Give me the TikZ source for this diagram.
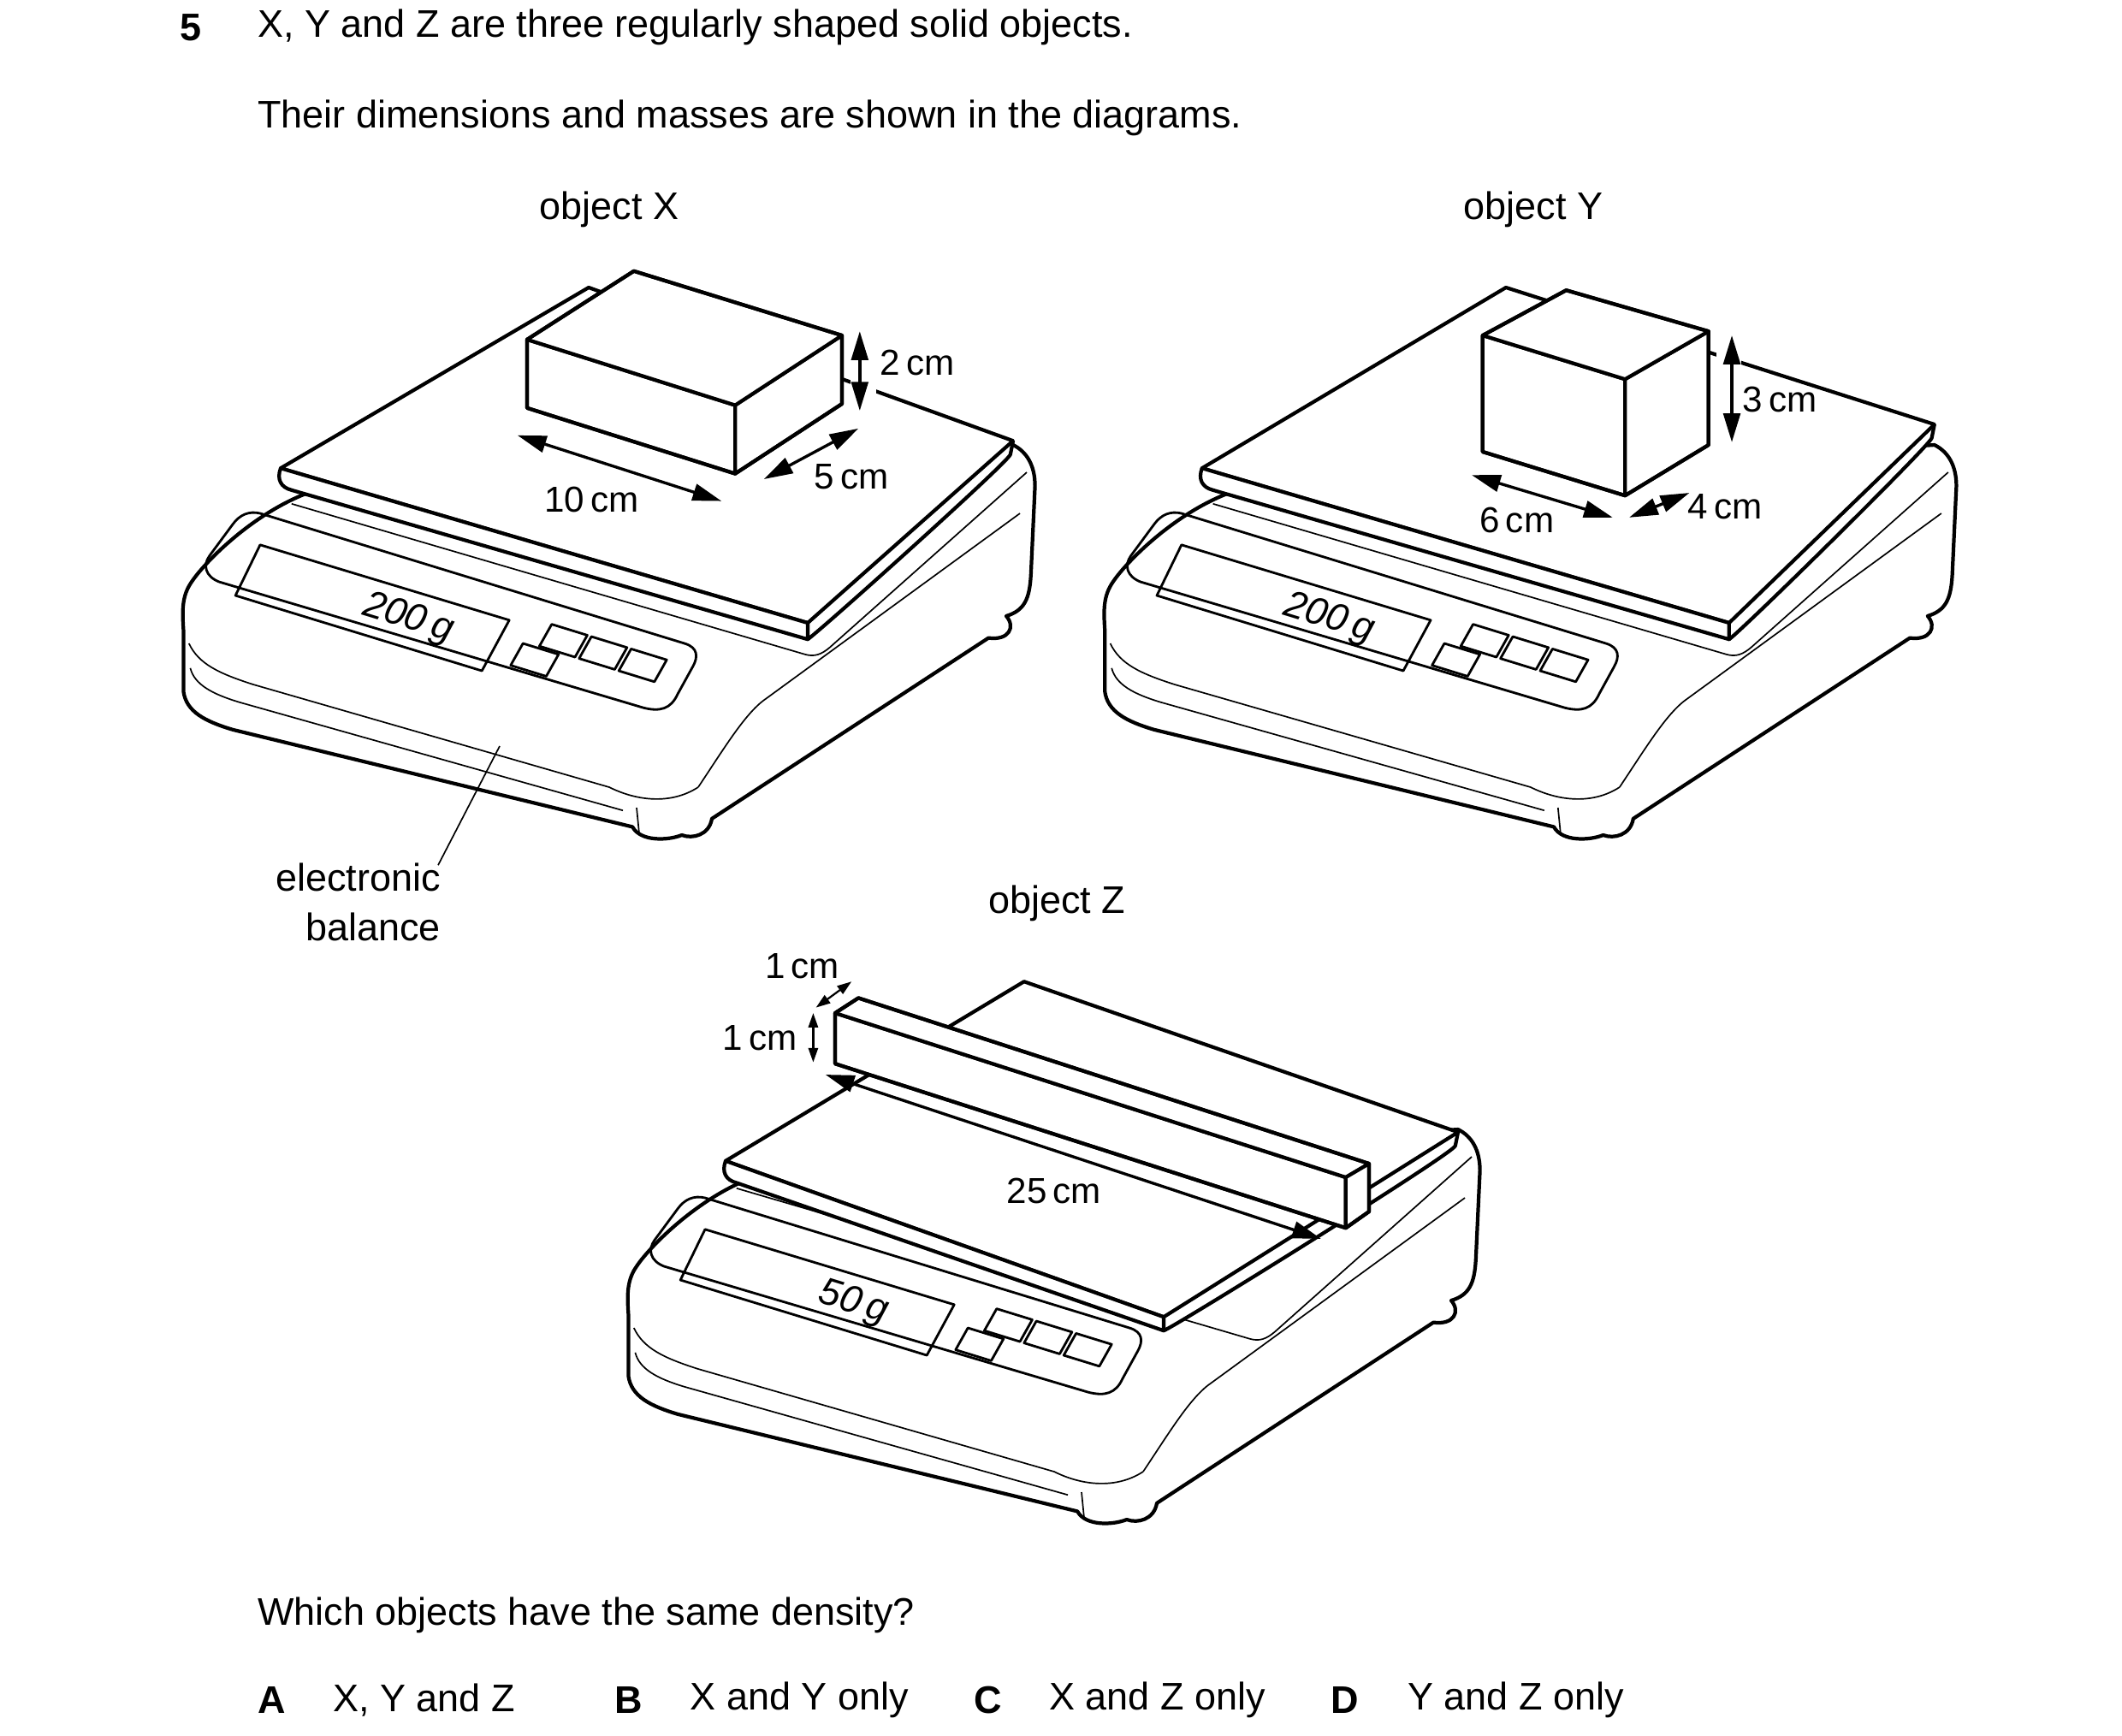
\documentclass[tikz,border=0pt]{standalone}
\usepackage{fontspec}
\setmainfont{Liberation Sans}
\usetikzlibrary{arrows.meta}
\tikzset{
 thk/.style={line width=1.5pt, line join=round},
 thn/.style={line width=0.6pt},
 dim/.style={line width=1.2pt, {Triangle[length=12pt,width=7pt]}-{Triangle[length=12pt,width=7pt]}},
 lbl/.style={font=\fontsize{15}{16}\selectfont, inner sep=0pt},
 txt/.style={font=\fontsize{16}{18}\selectfont, inner sep=0pt, anchor=west},
 disp/.style={font=\fontsize{16}{16}\selectfont\itshape, inner sep=0pt, rotate=-17},
}
\newcommand\mybody[2]{%
\begin{scope}[shift={#1}]
 \draw[thk, fill=white] (225,360) .. controls (185,375) and (150,410) .. (140,425) .. controls (133,435) and (133,445) .. (134,460) -- (134,505) .. controls (136,520) and (150,527) .. (170,533) -- (462,604) .. controls (468,615) and (488,614) .. (498,610) .. controls (506,613) and (518,610) .. (520,598) -- (722,466) .. controls (737,468) and (742,458) .. (735,450) .. controls (748,446) and (752,438) .. (753,420) -- (756,355) .. controls (756,340) and (750,330) .. (740,325) -- cycle;
 \draw[thn] (213,368) -- (588,478) .. controls (595,480) and (600,478) .. (606,473) -- (750,345);
 \draw[thn] (138,470) .. controls (145,485) and (160,492) .. (185,500) -- (445,575) .. controls (465,585) and (490,588) .. (510,575);
 \draw[thn] (510,575) .. controls (530,545) and (545,520) .. (560,510) -- (745,375);
 \draw[thn] (139,488) .. controls (142,500) and (155,507) .. (175,513) -- (455,592);
 \draw[thk,line width=1pt] (190,375) -- (500,470) .. controls (510,473) and (510,480) .. (506,487) -- (495,507) .. controls (490,518) and (482,520) .. (470,517) -- (160,425) .. controls (150,421) and (148,413) .. (153,406) -- (170,383) .. controls (175,376) and (182,373) .. (190,375) -- cycle;
 \draw[thk,line width=1pt] (190,398) -- (372,453) -- (352,490) -- (172,435) -- cycle;
 \foreach \o in {(403,456),(432,465),(461,474),(382,470)}
   \draw[thk,line width=1pt] \o -- ++(26,8) -- ++(-9,16) -- ++(-26,-8) -- cycle;
 \draw[thn] (465,590) -- (467,610);
 \node[disp] at (298,452) {#2};
\end{scope}}
\begin{document}
\begin{tikzpicture}[x=0.02cm,y=-0.02cm]
\useasboundingbox (0,0) rectangle (1550,1267.5);
% texts
\node[txt,font=\fontsize{16}{18}\selectfont\bfseries] (q) at (131,20) {5};
\node[txt] (t1) at (188,20) {X, Y and Z are three regularly shaped solid objects.};
\node[txt] (t2) at (188,86) {Their dimensions and masses are shown in the diagrams.};
\node[txt,anchor=center] (ox) at (445,153) {object X};
\node[txt,anchor=center] (oy) at (1120,153) {object Y};
\node[txt,anchor=center] (oz) at (772,660) {object Z};
\node[txt,anchor=east] (e1) at (322,641) {electronic};
\node[txt,anchor=east] (e2) at (322,677) {balance};
\node[txt] (w) at (188,1180) {Which objects have the same density?};
\node[txt,font=\fontsize{16}{18}\selectfont\bfseries] (A) at (188,1242) {A};
\node[txt] (Aa) at (243,1242) {X, Y and Z};
\node[txt,font=\fontsize{16}{18}\selectfont\bfseries] (B) at (449,1242) {B};
\node[txt] (Ba) at (504,1242) {X and Y only};
\node[txt,font=\fontsize{16}{18}\selectfont\bfseries] (C) at (711,1242) {C};
\node[txt] (Ca) at (766,1242) {X and Z only};
\node[txt,font=\fontsize{16}{18}\selectfont\bfseries] (D) at (972,1242) {D};
\node[txt] (Da) at (1028,1242) {Y and Z only};

% ===== balance X
\mybody{(0,0)}{200\,g}
\draw[thk,fill=white] (205,342) -- (430,210) -- (740,322) -- (738,332) .. controls (736,338) and (600,460) .. (590,467) -- (590,455) -- cycle;
\draw[thk,fill=white] (205,342) .. controls (202,350) and (205,356) .. (213,358) -- (590,467) -- (590,455) -- cycle;
\draw[thk] (590,455) -- (740,322);
\coordinate (lp) at (365,545);
\coordinate (lq) at (320,632);
\draw[thn] (lp) -- (lq);
% box X
\draw[thk,fill=white] (385,248) -- (537,296) -- (537,346) -- (385,298) -- cycle;
\draw[thk,fill=white] (537,296) -- (615,245) -- (615,295) -- (537,346) -- cycle;
\draw[thk,fill=white] (385,248) -- (463,198) -- (615,245) -- (537,296) -- cycle;
\draw[thn] (385,248) -- (537,296) -- (537,346);
\draw[thn] (537,296) -- (615,245);
\draw[thk] (385,248) -- (463,198) -- (615,245) -- (615,295) -- (537,346) -- (385,298) -- cycle;
\draw[fill=white,draw=none] (621,262) rectangle (640,290);
\coordinate (x10a) at (378,318); \coordinate (x10b) at (527,366);
\coordinate (x5a) at (558,350); \coordinate (x5b) at (627,313);
\coordinate (x2a) at (628,242); \coordinate (x2b) at (628,300);
\draw[dim] (x10a) -- (x10b);
\draw[dim] (x5a) -- (x5b);
\draw[dim] (x2a) -- (x2b);
\node[lbl] at (432,365) {10\,cm};
\node[lbl] at (622,348) {5\,cm};
\node[lbl] at (670,265) {2\,cm};

% ===== balance Y
\mybody{(673,0)}{200\,g}
\draw[thk,fill=white] (878,342) -- (1100,210) -- (1413,310) -- (1411,320) .. controls (1409,326) and (1273,460) .. (1263,467) -- (1263,455) -- cycle;
\draw[thk,fill=white] (878,342) .. controls (875,350) and (878,356) .. (886,358) -- (1263,467) -- (1263,455) -- cycle;
\draw[thk] (1263,455) -- (1413,310);
% box Y
\draw[thk,fill=white] (1083,245) -- (1187,277) -- (1187,362) -- (1083,330) -- cycle;
\draw[thk,fill=white] (1187,277) -- (1248,242) -- (1248,325) -- (1187,362) -- cycle;
\draw[thk,fill=white] (1083,245) -- (1144,212) -- (1248,242) -- (1187,277) -- cycle;
\draw[thn] (1083,245) -- (1187,277) -- (1187,362);
\draw[thn] (1187,277) -- (1248,242);
\draw[thk] (1083,245) -- (1144,212) -- (1248,242) -- (1248,325) -- (1187,362) -- (1083,330) -- cycle;
\draw[fill=white,draw=none] (1254,255) rectangle (1272,300);
\coordinate (y6a) at (1075,347); \coordinate (y6b) at (1178,378);
\coordinate (y4a) at (1190,378); \coordinate (y4b) at (1234,360);
\coordinate (y3a) at (1265,245); \coordinate (y3b) at (1265,323);
\draw[dim] (y6a) -- (y6b);
\draw[dim] (y4a) -- (y4b);
\draw[dim] (y3a) -- (y3b);
\node[lbl] at (1108,380) {6\,cm};
\node[lbl] at (1260,370) {4\,cm};
\node[lbl] at (1300,292) {3\,cm};

% ===== balance Z
\mybody{(325,500)}{50\,g}
\draw[thk,fill=white] (530,848) -- (748,717) -- (1065,827) -- (1063,837) .. controls (1061,843) and (860,968) .. (850,972) -- (850,962) -- cycle;
\draw[thk,fill=white] (530,848) .. controls (527,856) and (530,862) .. (538,864) -- (850,972) -- (850,962) -- cycle;
\draw[thk] (850,962) -- (1065,827);
% bar
\draw[thk,fill=white] (610,740) -- (983,860) -- (983,897) -- (610,777) -- cycle;
\draw[thk,fill=white] (610,740) -- (627,729) -- (1000,850) -- (983,860) -- cycle;
\draw[thk,fill=white] (983,860) -- (1000,850) -- (1000,885) -- (983,897) -- cycle;
\draw[thn] (610,740) -- (983,860) -- (983,897);
\draw[thk] (610,740) -- (627,729) -- (1000,850) -- (1000,885) -- (983,897) -- (610,777) -- cycle;
\coordinate (z25a) at (603,785); \coordinate (z25b) at (965,905);
\coordinate (z1a) at (594,740); \coordinate (z1b) at (594,776);
\coordinate (z1c) at (596,736); \coordinate (z1d) at (622,717);
\draw[dim] (z25a) -- (z25b);
\draw[dim,line width=0.8pt,{Triangle[length=6pt,width=4pt]}-{Triangle[length=6pt,width=4pt]}] (z1a) -- (z1b);
\draw[dim,line width=0.8pt,{Triangle[length=6pt,width=4pt]}-{Triangle[length=6pt,width=4pt]}] (z1c) -- (z1d);
\node[lbl] at (770,870) {25\,cm};
\node[lbl] at (555,758) {1\,cm};
\node[lbl] at (586,706) {1\,cm};
\end{tikzpicture}
\end{document}
